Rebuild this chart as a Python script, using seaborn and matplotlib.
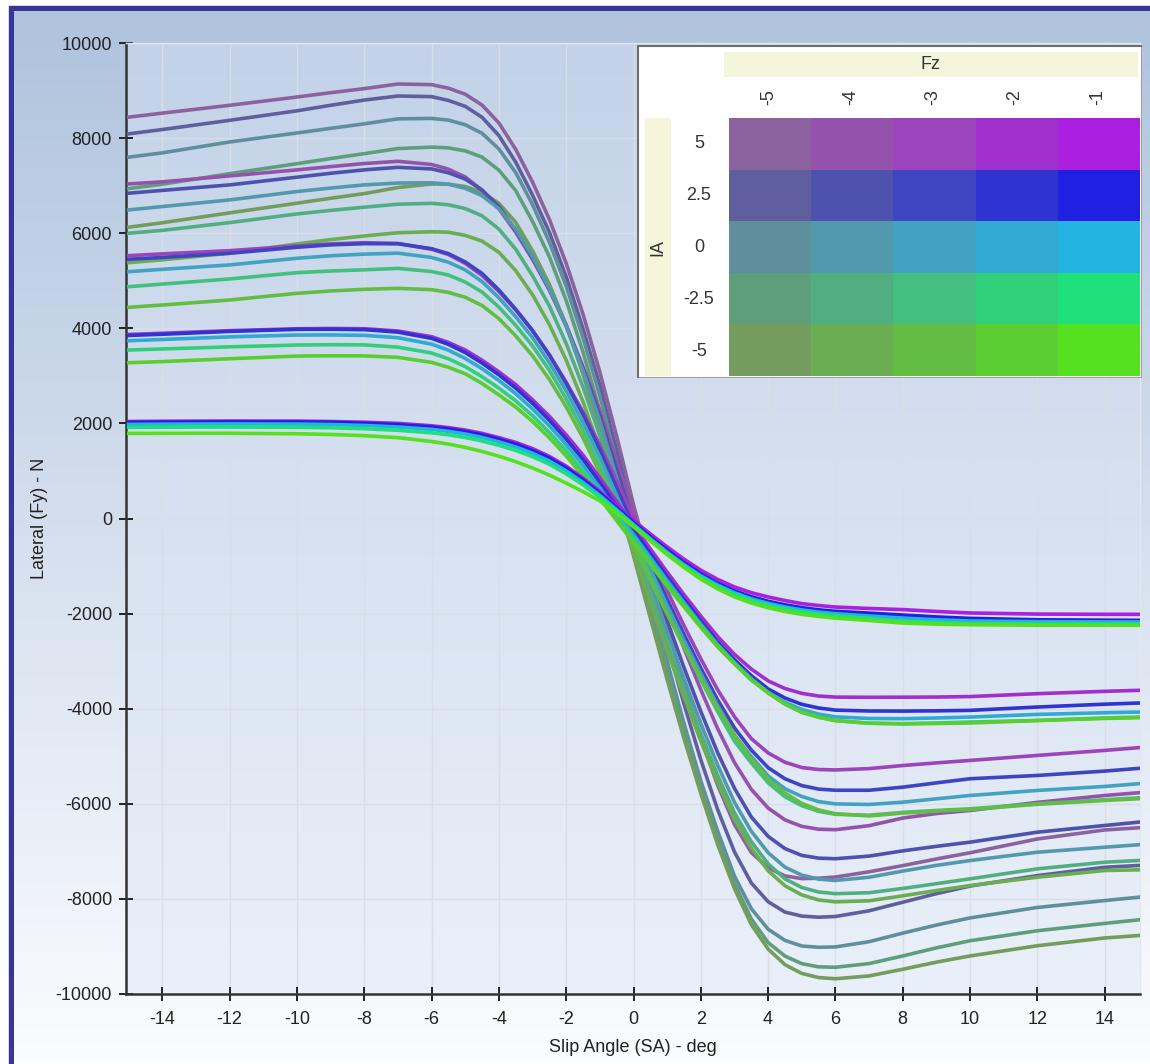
import numpy as np
import pandas as pd
import matplotlib
matplotlib.use("Agg")
import matplotlib.pyplot as plt
from matplotlib.patches import Rectangle
from matplotlib.colors import ListedColormap, to_rgb
import seaborn as sns

# slip angle samples (deg)
slip_angle = [-15, -14, -12, -10, -9, -8, -7, -6, -5.5, -5, -4.5, -4, -3.5, -3, -2.5, -2,
              -1.5, -1, -0.5, 0, 0.5, 1, 1.5, 2, 2.5, 3, 3.5, 4, 4.5, 5, 5.5, 6,
              7, 8, 9, 10, 12, 14, 15]

fz_values = [-5, -4, -3, -2, -1]
ia_values = [5, 2.5, 0, -2.5, -5]

# lateral force (N) per Fz / IA combination
fz5_ia5 = [8441, 8525, 8690, 8864, 8955, 9040, 9138, 9124, 9050, 8923, 8694, 8319, 7762, 7076,
           6290, 5366, 4297, 3081, 1728, 290, -1008, -2273, -3486, -4623, -5608, -6434, -7025,
           -7347, -7517, -7573, -7565, -7540, -7430, -7300, -7160, -7030, -6740, -6550, -6505]
fz5_ia25 = [8090, 8180, 8374, 8574, 8690, 8800, 8885, 8872, 8792, 8668, 8437, 8054, 7494, 6800,
            6019, 5085, 3992, 2800, 1431, 0, -1325, -2633, -3899, -5074, -6122, -7011, -7665,
            -8059, -8277, -8361, -8385, -8370, -8250, -8070, -7890, -7730, -7510, -7335, -7298]
fz5_ia0 = [7599, 7690, 7919, 8108, 8205, 8300, 8405, 8414, 8378, 8281, 8100, 7772, 7275, 6601,
           5810, 4884, 3797, 2577, 1170, -280, -1641, -3003, -4310, -5518, -6573, -7520, -8205,
           -8638, -8873, -8990, -9017, -9010, -8900, -8720, -8550, -8400, -8180, -8035, -7965]
fz5_iam25 = [6938, 7030, 7252, 7462, 7570, 7673, 7780, 7810, 7794, 7732, 7599, 7326, 6896, 6248,
             5506, 4585, 3499, 2265, 867, -538, -1878, -3209, -4464, -5663, -6748, -7673, -8419,
             -8919, -9202, -9362, -9429, -9438, -9360, -9200, -9030, -8880, -8670, -8515, -8441]
fz5_iam5 = [6126, 6220, 6428, 6631, 6735, 6833, 6960, 7035, 7030, 6981, 6861, 6629, 6228, 5630,
            4926, 4067, 3033, 1858, 535, -784, -2092, -3389, -4628, -5781, -6856, -7785, -8540,
            -9054, -9383, -9567, -9654, -9680, -9620, -9480, -9330, -9200, -8985, -8822, -8771]

fz4_ia5 = [7037, 7080, 7205, 7332, 7400, 7465, 7512, 7445, 7347, 7182, 6903, 6512, 6022, 5450,
           4803, 4065, 3192, 2258, 1204, 110, -858, -1800, -2730, -3601, -4419, -5133, -5696,
           -6089, -6338, -6475, -6534, -6545, -6460, -6300, -6205, -6140, -5970, -5825, -5768]
fz4_ia25 = [6841, 6900, 7016, 7178, 7260, 7332, 7385, 7352, 7271, 7138, 6909, 6561, 6059, 5483,
            4818, 4049, 3148, 2158, 1034, -100, -1124, -2147, -3135, -4058, -4924, -5675, -6277,
            -6685, -6942, -7085, -7143, -7155, -7100, -6990, -6895, -6807, -6597, -6456, -6387]
fz4_ia0 = [6490, 6560, 6700, 6876, 6950, 7016, 7055, 7060, 7030, 6945, 6789, 6514, 6083, 5511,
           4832, 4048, 3101, 2049, 855, -312, -1348, -2383, -3365, -4310, -5185, -5969, -6578,
           -7028, -7332, -7500, -7584, -7612, -7545, -7415, -7295, -7193, -7018, -6913, -6862]
fz4_iam25 = [5999, 6060, 6223, 6405, 6480, 6547, 6610, 6628, 6598, 6518, 6366, 6087, 5663, 5106,
             4469, 3680, 2765, 1737, 583, -521, -1555, -2605, -3584, -4523, -5400, -6189, -6797,
             -7262, -7578, -7760, -7855, -7890, -7870, -7780, -7680, -7578, -7368, -7228, -7193]
fz4_iam5 = [5380, 5440, 5578, 5774, 5865, 5942, 6010, 6030, 6021, 5955, 5834, 5599, 5213, 4706,
            4078, 3330, 2455, 1448, 338, -726, -1759, -2784, -3753, -4681, -5552, -6327, -6932,
            -7408, -7723, -7917, -8022, -8062, -8040, -7935, -7825, -7719, -7544, -7403, -7389]

fz3_ia5 = [5528, 5565, 5633, 5732, 5775, 5800, 5784, 5662, 5552, 5366, 5111, 4774, 4386, 3945,
           3446, 2866, 2239, 1543, 783, 0, -762, -1518, -2254, -2952, -3602, -4169, -4629,
           -4930, -5126, -5237, -5279, -5288, -5260, -5195, -5140, -5088, -4983, -4877, -4820]
fz3_ia25 = [5452, 5490, 5578, 5704, 5755, 5780, 5778, 5674, 5570, 5396, 5153, 4806, 4400, 3955,
            3433, 2837, 2183, 1448, 643, -155, -927, -1699, -2437, -3146, -3815, -4404, -4868,
            -5240, -5474, -5617, -5691, -5715, -5715, -5650, -5560, -5473, -5404, -5312, -5256]
fz3_ia0 = [5191, 5240, 5333, 5473, 5525, 5560, 5580, 5490, 5390, 5228, 4982, 4641, 4244, 3802,
           3276, 2684, 2013, 1286, 481, -307, -1064, -1828, -2562, -3260, -3933, -4553, -5004,
           -5413, -5683, -5846, -5954, -6002, -6014, -5966, -5895, -5825, -5719, -5635, -5578]
fz3_iam25 = [4875, 4930, 5038, 5170, 5205, 5230, 5260, 5194, 5120, 4973, 4762, 4446, 4062, 3631,
             3115, 2515, 1857, 1105, 321, -456, -1212, -1973, -2692, -3397, -4059, -4684, -5140,
             -5558, -5852, -6039, -6158, -6220, -6240, -6180, -6140, -6105, -6000, -5915, -5873]
fz3_iam5 = [4442, 4490, 4595, 4736, 4785, 4820, 4840, 4813, 4755, 4653, 4479, 4203, 3840, 3423,
            2925, 2348, 1695, 954, 160, -576, -1296, -2009, -2698, -3355, -3994, -4551, -5052,
            -5478, -5772, -5991, -6129, -6210, -6255, -6195, -6155, -6120, -6010, -5930, -5894]

fz2_ia5 = [3870, 3895, 3950, 3990, 3996, 3991, 3943, 3823, 3703, 3544, 3328, 3084, 2816, 2497,
           2149, 1758, 1334, 855, 352, -147, -639, -1128, -1602, -2053, -2482, -2858, -3166,
           -3414, -3576, -3677, -3734, -3756, -3760, -3758, -3755, -3745, -3684, -3635, -3614]
fz2_ia25 = [3850, 3875, 3935, 3978, 3980, 3972, 3920, 3789, 3662, 3490, 3268, 3021, 2742, 2424,
            2066, 1668, 1242, 756, 251, -247, -737, -1231, -1701, -2155, -2592, -2970, -3305,
            -3584, -3775, -3908, -3985, -4030, -4048, -4050, -4045, -4035, -3965, -3905, -3881]
fz2_ia0 = [3739, 3765, 3820, 3858, 3860, 3852, 3802, 3667, 3540, 3366, 3150, 2903, 2625, 2304,
           1949, 1552, 1119, 641, 147, -337, -825, -1305, -1768, -2223, -2652, -3031, -3368,
           -3654, -3865, -4016, -4113, -4172, -4205, -4210, -4195, -4176, -4120, -4085, -4071]
fz2_iam25 = [3543, 3565, 3610, 3648, 3655, 3651, 3604, 3480, 3359, 3194, 2982, 2741, 2474, 2164,
             1809, 1425, 994, 530, 48, -423, -893, -1364, -1812, -2244, -2662, -3042, -3392,
             -3668, -3905, -4078, -4181, -4250, -4305, -4315, -4300, -4281, -4246, -4195, -4176]
fz2_iam5 = [3276, 3300, 3360, 3416, 3422, 3420, 3389, 3283, 3181, 3044, 2839, 2599, 2343, 2042,
            1696, 1317, 889, 424, -46, -505, -963, -1426, -1858, -2290, -2700, -3059, -3396,
            -3663, -3897, -4069, -4177, -4251, -4305, -4320, -4312, -4300, -4250, -4205, -4190]

fz1_ia5 = [2040, 2045, 2050, 2048, 2040, 2025, 2000, 1950, 1912, 1860, 1790, 1700, 1600, 1470,
           1305, 1100, 850, 570, 265, -40, -325, -598, -855, -1088, -1280, -1440, -1560,
           -1650, -1725, -1790, -1830, -1862, -1892, -1916, -1955, -1987, -2010, -2015, -2015]
fz1_ia25 = [2021, 2026, 2032, 2030, 2022, 2002, 1972, 1922, 1882, 1828, 1757, 1665, 1560, 1428,
            1268, 1060, 812, 530, 225, -85, -385, -668, -930, -1165, -1360, -1520, -1645,
            -1740, -1815, -1875, -1920, -1952, -1990, -2030, -2070, -2100, -2130, -2138, -2141]
fz1_ia0 = [1979, 1984, 1990, 1986, 1977, 1957, 1925, 1875, 1833, 1778, 1705, 1612, 1505, 1372,
           1210, 1002, 760, 485, 185, -125, -425, -710, -970, -1205, -1400, -1562, -1688,
           -1785, -1862, -1922, -1968, -2002, -2050, -2095, -2130, -2155, -2170, -2175, -2176]
fz1_iam25 = [1916, 1920, 1924, 1918, 1908, 1888, 1855, 1802, 1760, 1704, 1630, 1538, 1432, 1300,
             1142, 940, 708, 445, 155, -145, -445, -732, -995, -1232, -1430, -1595, -1722,
             -1822, -1900, -1962, -2010, -2046, -2100, -2160, -2190, -2208, -2218, -2222, -2222]
fz1_iam5 = [1789, 1791, 1792, 1782, 1768, 1742, 1700, 1620, 1565, 1495, 1410, 1310, 1195, 1062,
            912, 745, 565, 370, 105, -175, -470, -760, -1030, -1275, -1480, -1648, -1778,
            -1878, -1955, -2015, -2060, -2095, -2145, -2198, -2222, -2234, -2244, -2246, -2246]

# colour grid: rows = IA (5 .. -5), columns = Fz (-5 .. -1)
colors_ia5 = ["#8c629e", "#9552ad", "#9b44bc", "#a12fcd", "#aa1fe0"]
colors_ia25 = ["#5f5f9d", "#4e51ae", "#3f44c0", "#2e33d2", "#1f20e2"]
colors_ia0 = ["#5f8f9d", "#5399ae", "#42a2c2", "#30aad2", "#22b3e0"]
colors_iam25 = ["#5f9e7b", "#51ae80", "#43c07e", "#30cf79", "#20e07b"]
colors_iam5 = ["#739c5e", "#6aad52", "#63bd44", "#5acd31", "#55e020"]

curves = {
    -5: [fz5_ia5, fz5_ia25, fz5_ia0, fz5_iam25, fz5_iam5],
    -4: [fz4_ia5, fz4_ia25, fz4_ia0, fz4_iam25, fz4_iam5],
    -3: [fz3_ia5, fz3_ia25, fz3_ia0, fz3_iam25, fz3_iam5],
    -2: [fz2_ia5, fz2_ia25, fz2_ia0, fz2_iam25, fz2_iam5],
    -1: [fz1_ia5, fz1_ia25, fz1_ia0, fz1_iam25, fz1_iam5],
}
color_rows = [colors_ia5, colors_ia25, colors_ia0, colors_iam25, colors_iam5]

rows = []
palette = {}
hue_order = []
for j, fz in enumerate(fz_values):
    for i, ia in enumerate(ia_values):
        key = f"Fz {fz} / IA {ia}"
        palette[key] = color_rows[i][j]
        hue_order.append(key)
        for sa, fy in zip(slip_angle, curves[fz][i]):
            rows.append({"SA": sa, "Fy": fy, "curve": key})
df = pd.DataFrame(rows)

W, H = 1150, 1064
plt.rcParams['font.family'] = ['Liberation Sans', 'DejaVu Sans']
plt.rcParams['axes.unicode_minus'] = False

fig = plt.figure(figsize=(W / 100, H / 100), dpi=100, facecolor="white")

# window frame and background gradient
fig.patches.append(Rectangle((9 / W, 0), 1, 1 - 6 / H, transform=fig.transFigure,
                             color="#36369a", zorder=-20))
bg = fig.add_axes([14 / W, 0, 1 - 14 / W, 1 - 11 / H], zorder=-10)
top, bot = np.array(to_rgb("#afc3dd")), np.array(to_rgb("#fbfcff"))
grad = np.linspace(0, 1, 256)[:, None, None] * (bot - top) + top
bg.imshow(grad, aspect="auto", extent=(0, 1, 0, 1))
bg.axis("off")

# main plot
ax = fig.add_axes([126 / W, 1 - 994 / H, (1140 - 126) / W, (994 - 43) / H])
ax.set_facecolor("none")
xmin, xmax = -15.08, 15.05
ptop, pbot = np.array(to_rgb("#c3d2e8")), np.array(to_rgb("#eaf0f9"))
pgrad = np.linspace(0, 1, 256)[:, None, None] * (pbot - ptop) + ptop
ax.imshow(pgrad, aspect="auto", extent=(xmin, xmax, -10000, 10000), zorder=0)

sns.lineplot(data=df, x="SA", y="Fy", hue="curve", hue_order=hue_order,
             palette=palette, legend=False, linewidth=2.6, sort=False,
             estimator=None, ax=ax, zorder=3)

ax.set_xlim(xmin, xmax)
ax.set_ylim(-10000, 10000)
ax.set_xticks(range(-14, 15, 2))
ax.set_yticks(range(-10000, 10001, 2000))
ax.grid(True, color="#d9dde5", linewidth=1)
for gl in ax.get_xgridlines() + ax.get_ygridlines():
    gl.set_zorder(1)
ax.tick_params(direction="inout", length=10, width=1.4, colors="#222222",
               labelsize=13, pad=5)
ax.tick_params(axis="x", pad=7)
for side in ["left", "bottom"]:
    ax.spines[side].set_color("#333333")
    ax.spines[side].set_linewidth(1.8)
for side in ["top", "right"]:
    ax.spines[side].set_color("#e3e7ee")
    ax.spines[side].set_linewidth(1)
ax.set_xlabel("")
ax.set_ylabel("")
fig.text(39 / W, 1 - 518 / H, "Lateral (Fy) - N", rotation=90, ha="center",
         va="center", fontsize=13, color="#222222")
fig.text(633 / W, 1 - 1047 / H, "Slip Angle (SA) - deg", ha="center",
         va="center", fontsize=13, color="#222222")

# colour key inset
lx0, lx1, ly0, ly1 = 637, 1142, 45, 378
lax = fig.add_axes([lx0 / W, 1 - ly1 / H, (lx1 - lx0) / W, (ly1 - ly0) / H], zorder=5)
lax.set_xlim(lx0, lx1)
lax.set_ylim(ly1, ly0)
lax.axis("off")
lax.add_patch(Rectangle((lx0, ly0), lx1 - lx0, ly1 - ly0, facecolor="white",
                        edgecolor="#a0a0a0", linewidth=1.5))
lax.plot([lx0 + 1, lx0 + 1, lx1], [ly1, ly0 + 1, ly0 + 1], color="#6e6e6e", linewidth=1.5)
lax.add_patch(Rectangle((724, 52), 414, 25, facecolor="#f5f5dc", edgecolor="none"))
lax.add_patch(Rectangle((645, 118), 26, 258, facecolor="#f5f5dc", edgecolor="none"))
lax.text(931, 64.5, "Fz", ha="center", va="center", fontsize=13, color="#333333")
lax.text(658, 247, "IA", ha="center", va="center", rotation=90, fontsize=13, color="#333333")
col_x = [769, 851, 933, 1015, 1098]
for x, fz in zip(col_x, fz_values):
    lax.text(x, 97, str(fz), ha="center", va="center", rotation=90,
             fontsize=13, color="#333333")
row_y = [143.5, 195, 247, 299, 351]
for y, ia in zip(row_y, ia_values):
    lax.text(699, y, f"{ia:g}", ha="center", va="center", fontsize=13, color="#333333")

hax = fig.add_axes([729 / W, 1 - 376 / H, (1140 - 729) / W, (376 - 118) / H], zorder=6)
key_colors = colors_ia5 + colors_ia25 + colors_ia0 + colors_iam25 + colors_iam5
key_index = np.arange(25).reshape(5, 5)
sns.heatmap(key_index, cmap=ListedColormap(key_colors), vmin=-0.5, vmax=24.5,
            cbar=False, xticklabels=False, yticklabels=False, ax=hax)

fig.savefig("out.png", dpi=100)
